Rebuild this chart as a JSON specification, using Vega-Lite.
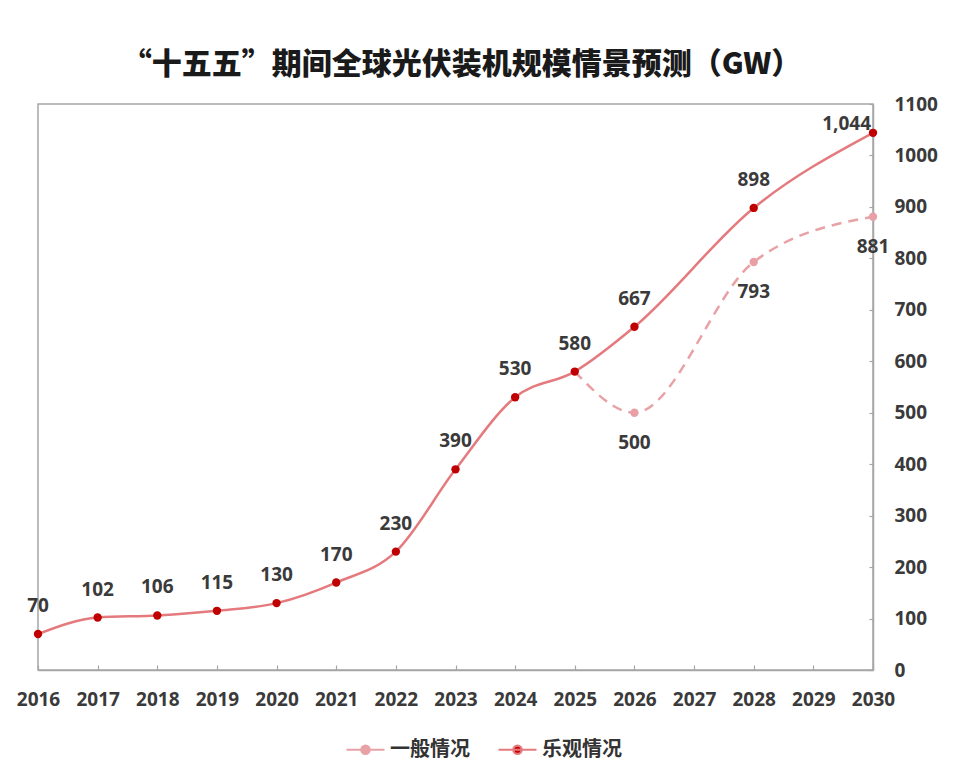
{
  "$schema": "https://vega.github.io/schema/vega-lite/v6.json",
  "autosize": "none",
  "width": 835,
  "height": 566,
  "padding": {"left": 38, "top": 104, "right": 83, "bottom": 99},
  "background": "white",
  "title": {
    "text": "“十五五”期间全球光伏装机规模情景预测（GW）",
    "font": "Noto Sans CJK SC",
    "fontSize": 30,
    "fontWeight": 900,
    "color": "#1a1a1a",
    "anchor": "middle",
    "offset": 15,
    "dx": 6
  },
  "config": {
    "view": {"stroke": "#a6a6a6", "strokeWidth": 1.5},
    "axis": {
      "grid": false,
      "domainColor": "#a6a6a6",
      "domainWidth": 1.5,
      "tickColor": "#a6a6a6",
      "tickWidth": 1.2,
      "labelFont": "Open Sans",
      "labelFontSize": 19,
      "labelFontWeight": "bold",
      "labelColor": "#3a3a3a",
      "title": null
    }
  },
  "data": {
    "values": [
      {"year": "2016", "value": 70, "scenario": "乐观情况"},
      {"year": "2017", "value": 102, "scenario": "乐观情况"},
      {"year": "2018", "value": 106, "scenario": "乐观情况"},
      {"year": "2019", "value": 115, "scenario": "乐观情况"},
      {"year": "2020", "value": 130, "scenario": "乐观情况"},
      {"year": "2021", "value": 170, "scenario": "乐观情况"},
      {"year": "2022", "value": 230, "scenario": "乐观情况"},
      {"year": "2023", "value": 390, "scenario": "乐观情况"},
      {"year": "2024", "value": 530, "scenario": "乐观情况"},
      {"year": "2025", "value": 580, "scenario": "乐观情况"},
      {"year": "2026", "value": 667, "scenario": "乐观情况"},
      {"year": "2028", "value": 898, "scenario": "乐观情况"},
      {"year": "2030", "value": 1044, "scenario": "乐观情况"},
      {"year": "2025", "value": 580, "scenario": "一般情况"},
      {"year": "2026", "value": 500, "scenario": "一般情况"},
      {"year": "2028", "value": 793, "scenario": "一般情况"},
      {"year": "2030", "value": 881, "scenario": "一般情况"}
    ]
  },
  "encoding": {
    "x": {
      "field": "year",
      "type": "ordinal",
      "scale": {"type": "point", "padding": 0, "domain": ["2016","2017","2018","2019","2020","2021","2022","2023","2024","2025","2026","2027","2028","2029","2030"]},
      "axis": {"labelAngle": 0, "tickSize": -5, "labelPadding": 25}
    },
    "y": {
      "field": "value",
      "type": "quantitative",
      "scale": {"domain": [0, 1100], "nice": false},
      "axis": {"orient": "right", "values": [0,100,200,300,400,500,600,700,800,900,1000,1100], "format": "d", "tickSize": -4, "labelPadding": 25, "labelAlign": "left"}
    }
  },
  "layer": [
    {
      "transform": [{"filter": "datum.scenario === '一般情况'"}],
      "mark": {"type": "line", "interpolate": "monotone", "strokeWidth": 2.5, "color": "#e8a2a6", "strokeDash": [10, 7]},
      "encoding": {}
    },
    {
      "transform": [{"filter": "datum.scenario === '乐观情况'"}],
      "mark": {"type": "line", "interpolate": "monotone", "strokeWidth": 2.5, "color": "#e57a7e"},
      "encoding": {}
    },
    {
      "transform": [{"filter": "datum.scenario === '乐观情况' || datum.year !== '2025'"}],
      "mark": {"type": "circle", "size": 70, "opacity": 1},
      "encoding": {
        "fill": {
          "field": "scenario",
          "type": "nominal",
          "scale": {"domain": ["一般情况", "乐观情况"], "range": ["#e8a0a6", "#c00000"]},
          "legend": {
            "title": null,
            "orient": "none",
            "legendX": 307,
            "legendY": 625,
            "direction": "horizontal",
            "symbolType": "M-1,0H1M0.22,0A0.22,0.22,0,1,1,-0.22,0A0.22,0.22,0,1,1,0.22,0",
            "symbolSize": 1444,
            "symbolStrokeWidth": 2.2,
            "symbolOpacity": 1,
            "labelFont": "Noto Sans CJK SC",
            "labelFontSize": 20,
            "labelFontWeight": "bold",
            "labelColor": "#333333",
            "labelOffset": 4,
            "columnPadding": 24,
            "encode": {
              "symbols": {"update": {"stroke": {"signal": "datum.value === '乐观情况' ? '#e57a7e' : '#e8a2a6'"}}}
            }
          }
        }
      }
    },
    {
      "transform": [{"filter": "datum.scenario === '乐观情况' && datum.year !== '2030'"}],
      "mark": {"type": "text", "dy": -28, "font": "Open Sans", "fontSize": 19, "fontWeight": "bold", "color": "#3a3a3a"},
      "encoding": {"text": {"field": "value", "type": "quantitative", "format": ","}}
    },
    {
      "transform": [{"filter": "datum.scenario === '乐观情况' && datum.year === '2030'"}],
      "mark": {"type": "text", "dy": -9, "dx": -2, "align": "right", "font": "Open Sans", "fontSize": 19, "fontWeight": "bold", "color": "#3a3a3a"},
      "encoding": {"text": {"field": "value", "type": "quantitative", "format": ","}}
    },
    {
      "transform": [{"filter": "datum.scenario === '一般情况' && datum.year !== '2025'"}],
      "mark": {"type": "text", "dy": 30, "font": "Open Sans", "fontSize": 19, "fontWeight": "bold", "color": "#3a3a3a"},
      "encoding": {"text": {"field": "value", "type": "quantitative", "format": ","}}
    }
  ]
}
